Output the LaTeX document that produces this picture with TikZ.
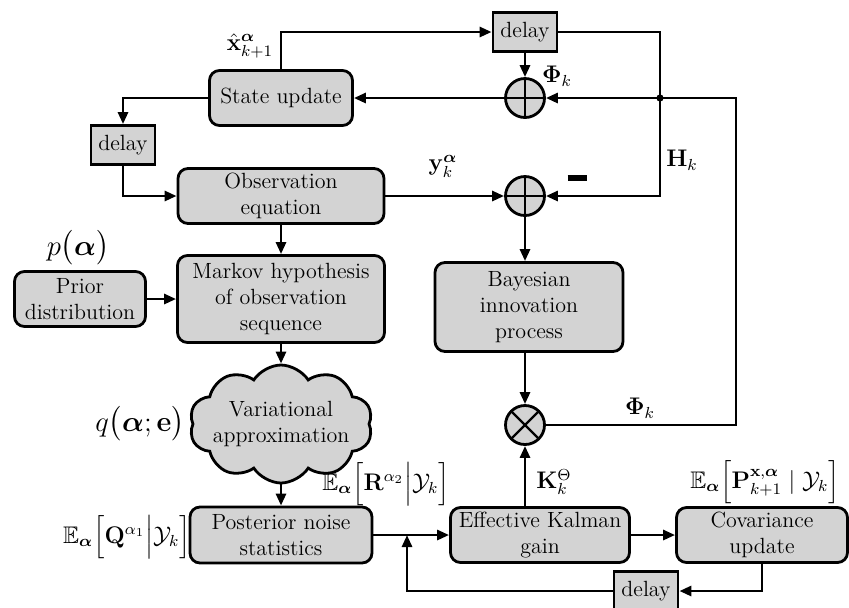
\documentclass[tikz,border=0pt]{standalone}
\usepackage{amsmath}
\usepackage{amssymb}
\usepackage{tikz}
\usetikzlibrary{arrows.meta,shapes.symbols}
\definecolor{boxgray}{HTML}{D3D3D3}

\tikzset{
  block/.style={draw, rounded corners=5pt, fill=boxgray, line width=1.4pt, align=center, inner sep=2pt},
  delaybox/.style={draw, fill=boxgray, line width=1.4pt, minimum width=32pt, minimum height=19.5pt, inner sep=1pt},
  sumnode/.style={circle, draw, fill=boxgray, line width=1.4pt, minimum size=19.5pt, inner sep=0pt,
    path picture={\draw[line width=1.2pt] (path picture bounding box.north) -- (path picture bounding box.south)
      (path picture bounding box.west) -- (path picture bounding box.east);}},
  mulnode/.style={circle, draw, fill=boxgray, line width=1.4pt, minimum size=19.5pt, inner sep=0pt,
    path picture={\draw[line width=1.2pt] (path picture bounding box.north west) -- (path picture bounding box.south east)
      (path picture bounding box.south west) -- (path picture bounding box.north east);}},
  arr/.style={-{Triangle[length=6pt,width=5pt]}, line width=1.4pt},
  lbl/.style={font=\fontsize{12}{14}\selectfont, inner sep=1pt}
}

\begin{document}
\begin{tikzpicture}[x=0.5pt, y=-0.5pt, every node/.style={font=\fontsize{11}{13}\selectfont}]
  \useasboundingbox (0,0) rectangle (849,607);

  % Nodes
  \node[block, minimum width=71.5pt, minimum height=27.5pt] (state) at (281,98) {State update};
  \node[delaybox] (dtop) at (525,32) {delay};
  \node[sumnode] (sumtop) at (525,98) {};
  \node[delaybox] (dleft) at (123,145) {delay};
  \node[block, minimum width=103pt, minimum height=27.5pt] (obs) at (281,196) {Observation\\equation};
  \node[sumnode] (summid) at (525,196) {};
  \node[block, minimum width=65.5pt, minimum height=27.5pt] (prior) at (80,299) {Prior\\distribution};
  \node[block, minimum width=103.5pt, minimum height=43.5pt] (markov) at (281,299) {Markov hypothesis\\of observation\\sequence};
  \node[block, minimum width=94pt, minimum height=44.5pt] (bayes) at (529,307) {Bayesian\\innovation\\process};
  \node[cloud, draw, fill=boxgray, line width=1.4pt, cloud puffs=10, cloud puff arc=115, aspect=1.9,
        inner sep=-3pt, align=center] (cloud) at (281,424) {Variational\\approximation};
  \node[mulnode] (mul) at (525,425) {};
  \node[block, minimum width=91pt, minimum height=28pt] (post) at (281,535) {Posterior noise\\statistics};
  \node[block, minimum width=89.5pt, minimum height=27.5pt] (kalman) at (540,535) {Effective Kalman\\gain};
  \node[block, minimum width=85.5pt, minimum height=27.5pt] (cov) at (762,535) {Covariance\\update};
  \node[delaybox] (dbot) at (646,591) {delay};

  \coordinate (hturn) at (660,196);
  \coordinate (rturn) at (736,425);
  \coordinate (fb) at (407,535);

  % Labels
  \node[lbl] (lxhat) at (250,46) {$\hat{\mathbf{x}}^{\boldsymbol{\alpha}}_{k+1}$};
  \node[lbl] (lphitop) at (557,76) {$\boldsymbol{\Phi}_{k}$};
  \node[lbl] (lh) at (682,160) {$\mathbf{H}_{k}$};
  \node[lbl] (ly) at (443,166) {$\mathbf{y}^{\boldsymbol{\alpha}}_{k}$};
  \node (lminus) at (577,178) {\rule{9.5pt}{3pt}};
  \node[lbl] (lp) at (78,248) {\Large$p\big(\boldsymbol{\alpha}\big)$};
  \node[lbl] (lq) at (140,424) {\Large$q\big(\boldsymbol{\alpha};\mathbf{e}\big)$};
  \node[lbl] (lphibot) at (640,408) {$\boldsymbol{\Phi}_{k}$};
  \node[lbl] (lk) at (554,482) {$\mathbf{K}^{\Theta}_{k}$};
  \node[lbl] (lr) at (386,484) {$\mathbb{E}_{\boldsymbol{\alpha}}\Big[\mathbf{R}^{\alpha_2}\Big|\mathcal{Y}_{k}\Big]$};
  \node[lbl] (lqq) at (127,537) {$\mathbb{E}_{\boldsymbol{\alpha}}\Big[\mathbf{Q}^{\alpha_1}\Big|\mathcal{Y}_{k}\Big]$};
  \node[lbl] (lpp) at (765,482) {$\mathbb{E}_{\boldsymbol{\alpha}}\Big[\mathbf{P}^{\mathbf{x},\boldsymbol{\alpha}}_{k+1}\mid\mathcal{Y}_{k}\Big]$};

  % Connections
  \draw[arr] (state.west) -| (dleft.north);
  \draw[arr] (dleft.south) |- (obs.west);
  \draw[arr] (obs.east) -- (summid.west);
  \draw[arr] (state.north) |- (dtop.west);
  \draw[arr] (dtop.south) -- (sumtop.north);
  \draw[arr] (sumtop.west) -- (state.east);
  \draw[arr] (dtop.east) -| (hturn) -- (summid.east);
  \draw[arr] (mul.east) -- (rturn) |- (sumtop.east);
  \fill (hturn |- sumtop) circle (1.8pt);
  \draw[arr] (summid.south) -- (summid.south |- bayes.north);
  \draw[arr] (bayes.south -| mul) -- (mul.north);
  \draw[arr] (prior.east) -- (markov.west);
  \draw[arr] (obs.south) -- (markov.north);
  \draw[arr] (markov.south) -- (cloud.north);
  \draw[arr] (cloud.south) -- (post.north);
  \draw[arr] (post.east) -- (kalman.west);
  \draw[arr] (kalman.north -| mul) -- (mul.south);
  \draw[arr] (kalman.east) -- (cov.west);
  \draw[arr] (cov.south) |- (dbot.east);
  \draw[arr] (dbot.west) -| (fb);
\end{tikzpicture}
\end{document}
